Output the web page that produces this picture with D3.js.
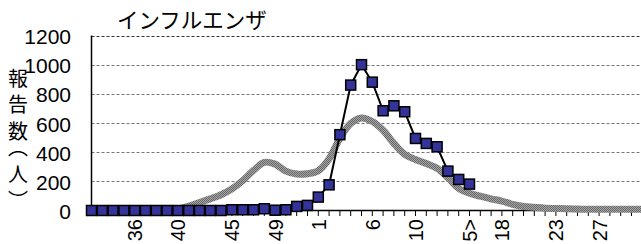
<!DOCTYPE html>
<html><head><meta charset="utf-8">
<script src="https://cdn.jsdelivr.net/npm/d3@7"></script>
<style>html,body{margin:0;padding:0;background:#fff;}svg{display:block;}
.ytitle{writing-mode:vertical-rl;font-feature-settings:"vhal" 1;}</style>
</head><body>
<svg id="c" width="641" height="244"></svg>
<script>
const title = "インフルエンザ";
const yTitle = "報告数（人）";
const weeks = ["32","33","34","35","36","37","38","39","40","41","42","43","44","45","46","47","48","49","50","51","52",
  "1","2","3","4","5","6","7","8","9","10","11","12","13","14","15","16","17","18","19","20","21","22","23","24","25","26","27","28","29","30","31"];
const tickLabels = ["","","","","36","","","","40","","","","","45","","","","49","","","",
  "1","","","","","6","","","","10","","","","","5>","","","18","","","","","23","","","","27","","","",""];
const yTicks = [0,200,400,600,800,1000,1200];
// current season (blue squares)
const current = [0,0,0,0,0,0,0,0,0,0,0,0,0,5,5,5,12,2,5,28,35,92,176,520,860,1000,880,684,718,677,494,460,437,270,213,181];
// reference / average curve (thick gray)
const average = [0,0,0,0,0,0,0,2,10,30,55,80,108,148,205,275,330,318,270,250,252,272,355,495,597,635,610,550,460,385,350,322,290,225,152,118,98,80,65,42,28,22,16,14,12,10,8,8,8,8,8,8];

const svg = d3.select("#c");
const x = d3.scalePoint().domain(weeks).range([91.5, 91.5 + 51*10.8]);
const y = d3.scaleLinear().domain([0,1200]).range([210.5, 35.5]);

const defs = svg.append("defs");
const pat = defs.append("pattern").attr("id","chk").attr("patternUnits","userSpaceOnUse").attr("width",2).attr("height",2);
pat.append("rect").attr("width",2).attr("height",2).attr("fill","#a3a3a3");
pat.append("rect").attr("width",1).attr("height",1).attr("fill","#6a6a6a");
pat.append("rect").attr("x",1).attr("y",1).attr("width",1).attr("height",1).attr("fill","#6a6a6a");

// gridlines
svg.append("g").selectAll("line").data(yTicks.filter(d=>d>0)).join("line")
  .attr("x1",91.5).attr("x2",641).attr("y1",d=>Math.round(y(d))+0.5).attr("y2",d=>Math.round(y(d))+0.5)
  .attr("stroke",d=>d===1200?"#333":"#777").attr("stroke-width",1).attr("stroke-dasharray","3,2");

// y labels
svg.append("g").selectAll("text").data(yTicks).join("text")
  .attr("x",71).attr("y",d=>y(d)+8.5).attr("text-anchor","end")
  .attr("font-family","Liberation Sans, Arial, sans-serif").attr("font-size",21).attr("fill","#000")
  .text(d=>d);

// x axis ticks
svg.append("g").selectAll("line").data(weeks).join("line")
  .attr("x1",d=>x(d)).attr("x2",d=>x(d)).attr("y1",210).attr("y2",216)
  .attr("stroke","#000").attr("stroke-width",1);
// x labels
svg.append("g").selectAll("text").data(weeks.map((w,i)=>({w,l:tickLabels[i]})).filter(d=>d.l!=="")).join("text")
  .attr("transform",d=>`translate(${x(d.w)+7.5},219) rotate(-90)`)
  .attr("text-anchor","end")
  .attr("font-family","Liberation Sans, Arial, sans-serif").attr("font-size",20).attr("fill","#000")
  .text(d=>d.l);

// axes lines
svg.append("line").attr("x1",91.5).attr("x2",91.5).attr("y1",35.5).attr("y2",210.5).attr("stroke","#000").attr("stroke-width",1.5);
svg.append("line").attr("x1",91.5).attr("x2",641).attr("y1",210.5).attr("y2",210.5).attr("stroke","#000").attr("stroke-width",1.5);

// gray average line
const lineAvg = d3.line().x((d,i)=>x(weeks[i])).y(d=>y(d)).curve(d3.curveCatmullRom.alpha(0.5));
svg.append("path").datum(average).attr("d",lineAvg).attr("fill","none")
  .attr("stroke","url(#chk)").attr("stroke-width",7).attr("stroke-linejoin","round").attr("stroke-linecap","butt");

// blue current line
const lineCur = d3.line().x((d,i)=>x(weeks[i])).y(d=>y(d));
svg.append("path").datum(current).attr("d",lineCur).attr("fill","none").attr("stroke","#000").attr("stroke-width",2);
svg.append("g").selectAll("rect").data(current).join("rect")
  .attr("x",(d,i)=>x(weeks[i])-5).attr("y",d=>y(d)-5).attr("width",10).attr("height",10)
  .attr("fill","#333399").attr("stroke","#000").attr("stroke-width",1.5);

// title
svg.append("text").attr("x",117).attr("y",28).attr("font-family","Noto Sans CJK JP, sans-serif")
  .attr("font-size",21.5).attr("fill","#000").text(title);

// y title, vertical
svg.append("text").attr("class","ytitle").attr("x",18).attr("y",68)
  .attr("font-family","Noto Sans CJK JP, sans-serif").attr("font-size",20)
  .attr("letter-spacing",6.5).attr("fill","#000").text(yTitle);
</script>
</body></html>
